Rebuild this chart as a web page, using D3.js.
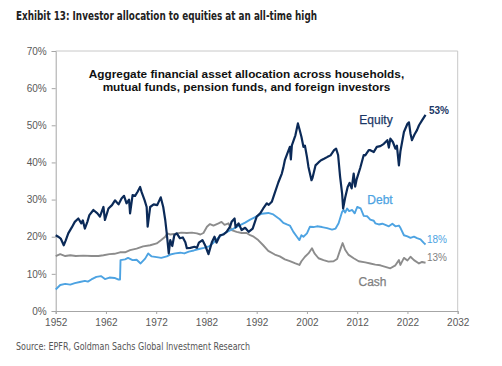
<!DOCTYPE html>
<html>
<head>
<meta charset="utf-8">
<script src="https://cdn.jsdelivr.net/npm/d3@7"></script>
<style>
  html, body { margin: 0; padding: 0; background: #fff; }
  svg { display: block; }
</style>
</head>
<body>
<svg id="chart" width="502" height="366"></svg>
<script>
// ---------- data (year, % allocation) ----------
const equity = [
  [1952.0,20.4],[1952.5,20.0],[1953.0,19.5],[1953.6,17.7],[1954.0,19.0],[1954.5,20.9],[1955.2,22.5],[1955.8,24.0],
  [1956.5,24.9],[1957.1,23.6],[1957.4,24.4],[1957.8,22.2],[1958.3,24.0],[1958.7,25.8],[1959.5,27.2],[1960.3,26.3],
  [1960.8,25.4],[1961.5,28.0],[1961.8,24.5],[1962.5,27.6],[1963.2,28.5],[1963.8,29.8],[1964.5,28.7],[1965.1,30.3],
  [1965.6,31.0],[1966.1,29.0],[1966.6,30.0],[1966.8,26.3],[1967.3,31.2],[1967.8,31.0],[1968.3,32.1],[1968.8,33.4],
  [1969.1,32.0],[1969.7,29.8],[1970.1,28.0],[1970.3,22.7],[1970.8,28.0],[1971.5,28.7],[1972.2,28.5],[1972.9,30.6],
  [1973.4,28.0],[1973.8,24.5],[1974.1,20.9],[1974.5,15.5],[1974.8,19.1],[1975.2,17.5],[1975.6,20.4],[1976.1,20.9],
  [1976.7,19.6],[1977.3,19.8],[1977.8,18.5],[1978.1,16.9],[1978.8,17.0],[1979.6,17.3],[1980.1,17.0],[1980.5,18.4],
  [1981.2,19.1],[1981.8,17.5],[1982.4,15.3],[1983.1,18.6],[1983.6,20.0],[1984.0,18.4],[1984.7,20.4],[1985.4,20.6],
  [1986.0,21.3],[1986.7,22.7],[1987.0,24.0],[1987.6,24.9],[1987.8,22.5],[1988.4,23.6],[1989.0,21.8],[1989.7,22.4],
  [1990.4,21.3],[1991.2,22.2],[1992.0,25.4],[1992.7,26.3],[1993.3,27.6],[1994.0,29.0],[1994.4,28.6],[1995.0,29.4],
  [1995.6,31.8],[1996.3,34.6],[1997.0,37.0],[1997.3,38.6],[1997.6,40.6],[1998.2,42.8],[1998.6,44.2],[1998.8,40.8],
  [1999.0,44.6],[1999.7,47.3],[2000.2,50.5],[2000.5,49.0],[2000.9,46.9],[2001.3,44.2],[2001.6,44.5],[2002.0,41.5],
  [2002.3,38.8],[2002.9,35.2],[2003.1,35.8],[2003.7,39.2],[2004.3,40.0],[2004.8,40.6],[2005.4,41.0],[2006.1,41.5],
  [2006.7,41.9],[2007.4,43.3],[2007.8,43.7],[2008.2,42.0],[2008.6,36.1],[2009.0,31.6],[2009.2,27.6],[2009.6,30.5],
  [2010.1,33.4],[2010.5,34.5],[2010.9,33.0],[2011.3,37.0],[2011.6,33.5],[2011.9,35.5],[2012.6,38.5],[2013.3,42.0],
  [2013.6,41.9],[2014.3,43.3],[2014.6,43.3],[2015.3,42.8],[2015.9,44.2],[2016.6,44.4],[2017.3,45.0],[2018.0,46.0],
  [2018.3,44.0],[2018.6,46.4],[2019.1,45.5],[2019.6,43.7],[2019.9,44.5],[2020.3,39.2],[2020.6,43.0],[2021.3,48.2],
  [2022.0,50.4],[2022.3,50.8],[2022.6,47.8],[2022.9,46.0],[2023.4,47.5],[2023.9,48.7],[2024.3,50.0],[2024.9,51.3],
  [2025.6,52.8]
];
const debt = [
  [1952.0,5.8],[1952.9,7.0],[1953.9,7.3],[1954.9,7.1],[1955.8,7.5],[1956.8,7.8],[1957.8,8.1],[1958.4,7.9],
  [1959.1,8.5],[1960.1,9.2],[1961.0,9.4],[1961.8,8.6],[1962.7,9.0],[1963.7,8.9],[1964.4,8.5],[1964.8,8.5],
  [1964.9,13.7],[1965.8,13.9],[1966.4,14.3],[1967.3,13.7],[1968.1,13.8],[1968.9,12.8],[1969.8,14.1],[1970.4,15.5],
  [1971.1,14.7],[1972.1,14.5],[1973.0,14.3],[1974.1,14.7],[1974.8,15.2],[1975.8,15.5],[1976.8,15.7],[1977.6,15.5],
  [1978.5,16.0],[1979.5,16.3],[1980.5,16.7],[1981.5,17.0],[1982.5,17.4],[1983.4,18.4],[1984.2,19.5],[1984.8,20.2],
  [1985.4,20.8],[1986.4,21.5],[1987.4,22.2],[1988.4,22.9],[1989.7,23.8],[1990.7,24.6],[1992.0,25.5],[1993.0,26.2],
  [1994.3,26.4],[1995.3,26.0],[1996.6,24.7],[1997.3,23.7],[1998.0,23.3],[1998.6,23.0],[1999.3,21.3],[2000.0,20.0],
  [2000.5,19.1],[2000.9,20.4],[2001.3,20.0],[2002.0,20.9],[2002.6,22.7],[2003.3,22.6],[2004.0,22.8],[2005.0,22.6],
  [2006.0,22.3],[2007.0,21.9],[2007.7,22.2],[2008.3,23.6],[2009.0,26.7],[2009.3,27.2],[2009.6,26.5],[2010.0,27.6],
  [2010.4,26.9],[2011.0,27.2],[2011.5,26.3],[2012.0,28.0],[2012.7,27.6],[2013.3,25.6],[2014.0,25.5],[2014.6,24.6],
  [2015.3,24.3],[2015.6,23.6],[2016.3,23.3],[2017.0,23.5],[2017.6,23.2],[2018.3,22.8],[2019.0,23.5],[2019.6,22.8],
  [2020.3,23.0],[2020.6,22.4],[2021.3,20.4],[2022.0,20.1],[2022.6,19.7],[2023.3,20.0],[2023.9,19.6],[2024.6,19.3],
  [2025.2,18.4],[2025.6,17.9]
];
const cash = [
  [1952.0,14.8],[1952.9,15.3],[1953.9,14.8],[1954.9,15.0],[1956.0,14.8],[1957.5,14.9],[1959.1,14.8],[1960.5,14.8],
  [1961.5,15.0],[1962.7,15.3],[1963.7,15.4],[1964.8,15.8],[1965.8,15.8],[1966.8,16.4],[1968.1,16.8],[1969.4,17.4],
  [1970.8,17.7],[1972.1,18.2],[1973.0,19.1],[1973.8,20.0],[1974.2,20.9],[1974.8,20.6],[1975.8,20.8],[1977.0,21.1],
  [1978.1,21.0],[1979.1,21.1],[1980.1,20.9],[1980.8,20.6],[1981.4,21.0],[1982.1,22.7],[1982.7,23.4],[1983.4,23.0],
  [1984.4,23.6],[1985.0,24.0],[1985.6,23.2],[1986.4,23.6],[1987.0,21.8],[1988.0,21.3],[1989.0,21.0],[1990.0,21.0],
  [1990.7,20.4],[1991.4,20.0],[1992.3,19.1],[1993.3,17.7],[1994.3,16.2],[1995.6,15.2],[1996.6,14.7],[1997.6,13.9],
  [1998.6,13.4],[1999.7,12.8],[2000.5,12.4],[2000.9,13.4],[2001.6,14.6],[2002.3,15.5],[2003.0,16.9],[2003.5,15.5],
  [2004.3,14.2],[2005.3,13.7],[2006.3,13.3],[2007.3,13.4],[2008.0,14.0],[2008.6,16.4],[2009.1,18.3],[2009.6,16.5],
  [2010.3,15.1],[2011.3,14.2],[2012.3,13.4],[2013.6,13.1],[2014.6,12.8],[2015.6,12.5],[2016.6,12.3],[2017.6,11.9],
  [2018.6,11.5],[2019.6,12.3],[2020.3,13.7],[2020.6,12.4],[2021.3,14.3],[2022.0,13.6],[2022.6,14.6],[2023.3,13.7],
  [2024.3,12.8],[2024.9,13.2],[2025.6,13.0]
];
const xTicks = [1952, 1962, 1972, 1982, 1992, 2002, 2012, 2022, 2032];
const yTicks = [0, 10, 20, 30, 40, 50, 60, 70];
const seriesNames = ["Equity", "Debt", "Cash"];
const endLabels = ["53%", "18%", "13%"];

// ---------- layout ----------
const svg = d3.select("#chart");
const plotLeft = 55.7, plotRight = 457.7, plotTop = 51, plotBottom = 311;
const x = d3.scaleLinear().domain([1952, 2032]).range([plotLeft, plotRight]);
const y = d3.scaleLinear().domain([0, 70]).range([plotBottom, plotTop]);

// title
svg.append("text")
  .attr("x", 16).attr("y", 19.5)
  .attr("font-family", "'Liberation Sans Narrow', 'DejaVu Sans Condensed', sans-serif")
  .attr("font-weight", "bold").attr("font-size", 12)
  .attr("fill", "#222")
  .attr("textLength", 301).attr("lengthAdjust", "spacingAndGlyphs")
  .text("Exhibit 13: Investor allocation to equities at an all-time high");

// frame (top & right)
svg.append("path")
  .attr("d", `M${plotLeft},${plotTop}H${plotRight}V${plotBottom}`)
  .attr("fill", "none").attr("stroke", "#c8c8c8").attr("stroke-width", 1);

// axes
const axisColor = "#a6a6a6";
const yAxis = svg.append("g").attr("transform", `translate(${plotLeft},0)`)
  .call(d3.axisLeft(y).tickValues(yTicks).tickFormat(d => d + "%").tickSize(4).tickPadding(5));
const xAxis = svg.append("g").attr("transform", `translate(0,${plotBottom})`)
  .call(d3.axisBottom(x).tickValues(xTicks).tickFormat(d3.format("d")).tickSize(3).tickPadding(5));
[yAxis, xAxis].forEach(g => {
  g.selectAll("path.domain").attr("stroke", axisColor);
  g.selectAll(".tick line").attr("stroke", axisColor);
  g.selectAll(".tick text")
    .attr("font-family", "'Liberation Sans', Arial, sans-serif")
    .attr("font-size", 10).attr("fill", "#595959");
});

// subtitle
const sub = svg.append("text")
  .attr("font-family", "'Liberation Sans', Arial, sans-serif")
  .attr("font-weight", "bold").attr("font-size", 11.8)
  .attr("fill", "#111").attr("text-anchor", "middle");
sub.append("tspan").attr("x", 246.5).attr("y", 78)
  .text("Aggregate financial asset allocation across households,");
sub.append("tspan").attr("x", 246.5).attr("y", 91)
  .text("mutual funds, pension funds, and foreign investors");

// lines
const line = d3.line().x(d => x(d[0])).y(d => y(d[1]));
const colors = ["#0b2a58", "#4da3e2", "#8c8c8c"];
const widths = [2.2, 1.9, 1.9];
[cash, debt, equity].forEach((data, i) => {
  const idx = 2 - i;
  svg.append("path").datum(data)
    .attr("d", line)
    .attr("fill", "none")
    .attr("stroke", colors[idx])
    .attr("stroke-width", widths[idx])
    .attr("stroke-linejoin", "round");
});

// series labels
const labelFont = "'Liberation Sans', Arial, sans-serif";
const labelColors = ["#1b3766", "#4da3e2", "#7f7f7f"];
const labelPos = [[376, 124], [380, 204], [372.5, 286]];
seriesNames.forEach((n, i) => {
  svg.append("text")
    .attr("x", labelPos[i][0]).attr("y", labelPos[i][1])
    .attr("text-anchor", "middle")
    .attr("font-family", labelFont).attr("font-size", 12)
    .attr("fill", labelColors[i])
    .attr("stroke", labelColors[i]).attr("stroke-width", 0.25)
    .text(n);
});
const endPos = [[429, 113.5], [427, 242.5], [427, 260.5]];
endLabels.forEach((t, i) => {
  svg.append("text")
    .attr("x", endPos[i][0]).attr("y", endPos[i][1])
    .attr("font-family", labelFont).attr("font-size", 10)
    .attr("font-weight", i === 0 ? "bold" : "normal")
    .attr("fill", labelColors[i])
    .text(t);
});

// source
svg.append("text")
  .attr("x", 16).attr("y", 350)
  .attr("font-family", "'Liberation Sans Narrow', 'DejaVu Sans Condensed', sans-serif")
  .attr("font-size", 10).attr("fill", "#555")
  .attr("textLength", 234).attr("lengthAdjust", "spacingAndGlyphs")
  .text("Source: EPFR, Goldman Sachs Global Investment Research");
</script>
</body>
</html>
